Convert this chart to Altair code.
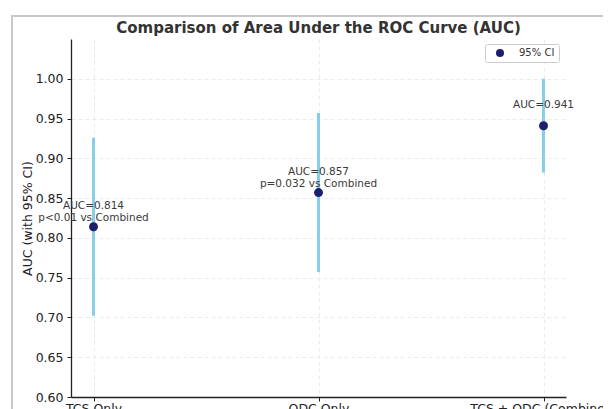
import altair as alt
import pandas as pd

models = ["TCS Only", "ODC Only", "TCS + ODC (Combined)"]
auc = [0.814, 0.857, 0.941]
ci_low = [0.702, 0.757, 0.882]
ci_high = [0.926, 0.957, 1.000]
labels = ["AUC=0.814\np<0.01 vs Combined", "AUC=0.857\np=0.032 vs Combined", "AUC=0.941"]
y_ticks = [0.60, 0.65, 0.70, 0.75, 0.80, 0.85, 0.90, 0.95, 1.00]
series_name = "95% CI"

df = pd.DataFrame({
    "model": models,
    "auc": auc,
    "ci_low": ci_low,
    "ci_high": ci_high,
    "label": labels,
    "series": [series_name] * len(models),
})

FONT = "DejaVu Sans"
W, H = 495, 358

x_enc = alt.X(
    "model:N",
    sort=models,
    scale=alt.Scale(type="point", padding=0.1),
    axis=alt.Axis(title=None, labelAngle=0, labelFontSize=12.5, labelPadding=1,
                  tickSize=4, grid=True),
)
y_scale = alt.Scale(domain=[0.6, 1.05], nice=False, zero=False)
y_axis = alt.Axis(
    title="AUC (with 95% CI)",
    values=y_ticks,
    format=".2f",
    labelFontSize=12.5,
    tickSize=4,
    labelPadding=4,
    titleFontSize=12.5,
    titleFontWeight="normal",
    titleAngle=270,
    titleX=-44,
    titleY=H / 2,
    titleAlign="center",
    titleBaseline="middle",
    grid=True,
)

base = alt.Chart(df)

err = base.mark_rule(color="#87CEEB", strokeWidth=3).encode(
    x=x_enc,
    y=alt.Y("ci_low:Q", scale=y_scale, axis=y_axis),
    y2="ci_high:Q",
)

pts = base.mark_circle(size=80, opacity=1).encode(
    x=x_enc,
    y=alt.Y("auc:Q", scale=y_scale, axis=y_axis),
    color=alt.Color(
        "series:N",
        scale=alt.Scale(range=["#1b1f6e"]),
        legend=alt.Legend(
            title=None,
            orient="none",
            legendX=414,
            legendY=5,
            labelFontSize=10,
            labelColor="#333",
            symbolSize=65,
            symbolStrokeWidth=0,
            symbolOffset=6,
            strokeColor="#cccccc",
            fillColor="white",
            padding=4,
            cornerRadius=2,
            labelOffset=14,
        ),
    ),
)

txt = base.transform_calculate(ty="datum.auc + 0.02").mark_text(
    align="center", baseline="bottom", fontSize=10.5, color="#3a3a3a",
    lineBreak="\n", font=FONT, lineHeight=12,
).encode(
    x=x_enc,
    y=alt.Y("ty:Q", scale=y_scale, axis=y_axis),
    text="label:N",
)

frame_df = pd.DataFrame({"k": [0]})
frame_v = alt.Chart(frame_df).mark_rule(color="#c8c8c8", strokeWidth=2).encode(
    x=alt.value(-59), y=alt.value(-23), y2=alt.value(380)
)
frame_h = alt.Chart(frame_df).mark_rule(color="#c8c8c8", strokeWidth=2).encode(
    x=alt.value(-60), x2=alt.value(540), y=alt.value(-23)
)

chart = alt.layer(frame_v, frame_h, err, pts, txt).properties(
    width=W,
    height=H,
    title=alt.TitleParams(
        "Comparison of Area Under the ROC Curve (AUC)",
        fontSize=15, fontWeight="bold", font=FONT, color="#333",
        anchor="middle", offset=-21, frame="group",
    ),
    autosize=alt.AutoSizeParams(type="none"),
    padding={"left": 63, "top": 31, "right": 37, "bottom": 30},
).configure(
    font=FONT,
).configure_view(
    stroke=None,
).configure_axis(
    labelFont=FONT,
    titleFont=FONT,
    labelColor="#222",
    titleColor="#222",
    domainColor="#222",
    domainWidth=1.3,
    tickColor="#222",
    gridColor="#e6e6e6",
    gridDash=[4, 3],
    gridWidth=0.8,
).configure_legend(
    labelFont=FONT,
)

chart.save("out.html", embed_options={"renderer": "svg", "actions": False})
